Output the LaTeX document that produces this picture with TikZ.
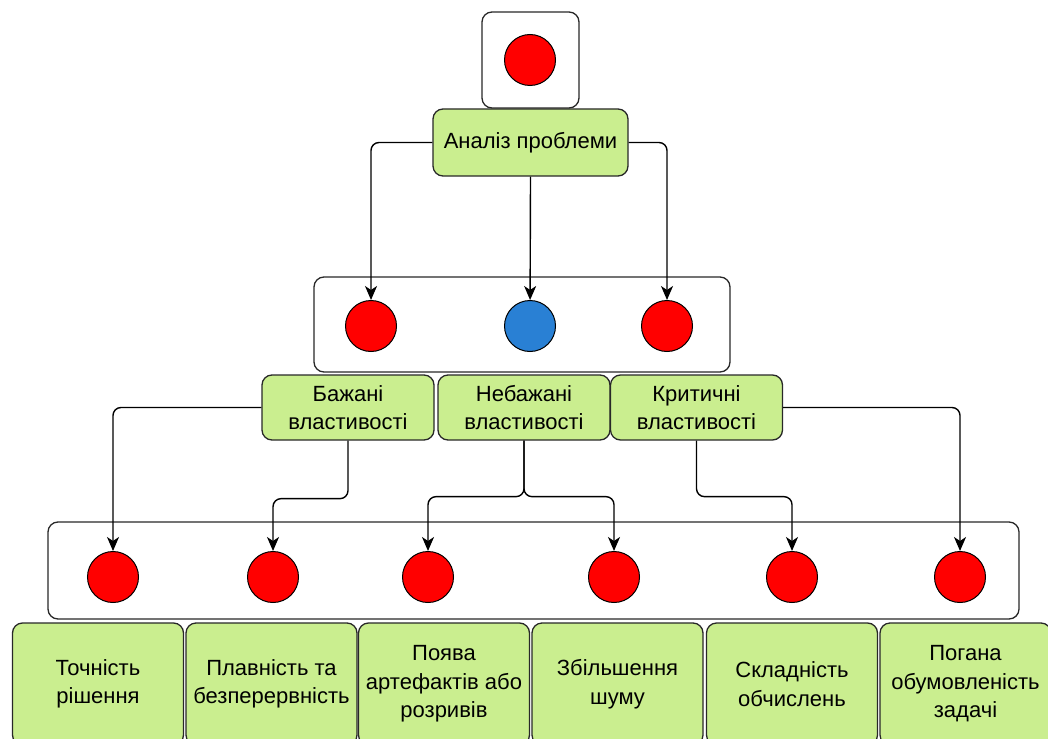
\documentclass[tikz,border=0pt]{standalone}
\usepackage{fontspec}
\setmainfont{Liberation Sans}
\usetikzlibrary{arrows.meta}

\definecolor{leaf}{RGB}{202,238,143}
\definecolor{edgegray}{RGB}{40,40,40}
\definecolor{dotblue}{RGB}{41,128,212}

\begin{document}
\begin{tikzpicture}[x=1pt, y=-1pt, semithick,
  frame/.style={draw=edgegray, rounded corners=10pt, line width=1.3pt},
  label/.style={frame, fill=leaf, align=center, inner sep=1pt,
    font=\fontsize{22}{28.5}\selectfont},
  dot/.style={circle, draw=black, line width=1pt, fill=red,
    minimum size=51pt, inner sep=0pt},
  conn/.style={draw=black, line width=1.4pt, rounded corners=8pt,
    -{Stealth[length=14pt,width=12pt,inset=4pt]}}]

  \useasboundingbox (0,0) rectangle (1048,738);

  % containers
  \node [frame, minimum width=97pt, minimum height=96pt] (topbox) at (530.5,60) {};
  \node [frame, minimum width=416pt, minimum height=95pt] (midbox) at (522,324.5) {};
  \node [frame, minimum width=971pt, minimum height=97pt] (lowbox) at (533.5,570.5) {};

  % dots
  \node [dot] (topdot) at (530,60) {};
  \node [dot] (mleft)  at (371,326) {};
  \node [dot, fill=dotblue] (mmid) at (530,326) {};
  \node [dot] (mright) at (667,326) {};

  \node [dot] (d1) at (113,577) {};
  \node [dot] (d2) at (273,577) {};
  \node [dot] (d3) at (428,577) {};
  \node [dot] (d4) at (614,577) {};
  \node [dot] (d5) at (792,577) {};
  \node [dot] (d6) at (960,577) {};

  % labels
  \node [label, minimum width=195pt, minimum height=67pt] (analysis) at (530.5,142.5) {Аналіз проблеми};

  \node [label, minimum width=172pt, minimum height=65pt] (wanted)   at (348,407.5) {Бажані\\властивості};
  \node [label, minimum width=172pt, minimum height=65pt] (unwanted) at (524,407.5) {Небажані\\властивості};
  \node [label, minimum width=172pt, minimum height=65pt] (critical) at (696.5,407.5) {Критичні\\властивості};

  \node [label, minimum width=171pt, minimum height=122pt] (l1) at (98,684) {Точність\\рішення};
  \node [label, minimum width=171pt, minimum height=122pt] (l2) at (271.5,684) {Плавність та\\безперервність};
  \node [label, minimum width=171pt, minimum height=122pt] (l3) at (444,684) {Поява\\артефактів або\\розривів};
  \node [label, minimum width=171pt, minimum height=122pt] (l4) at (617.5,684) {Збільшення\\шуму};
  \node [label, minimum width=171pt, minimum height=122pt] (l5) at (792,684) {Складність\\обчислень};
  \node [label, minimum width=171pt, minimum height=122pt] (l6) at (965.5,684) {Погана\\обумовленість\\задачі};

  % connectors
  \draw [conn] (analysis.west) -| (mleft);
  \draw [conn] (analysis.south) -- (mmid);
  \draw [conn] (analysis.east) -| (mright);

  \draw [conn] (wanted.west) -| (d1);
  \draw [conn] (wanted.south) -- ++(0,58) -| (d2);
  \draw [conn] (unwanted.south) -- ++(0,56) -| (d3);
  \draw [conn] (unwanted.south) -- ++(0,56) -| (d4);
  \draw [conn] (critical.south) -- ++(0,56) -| (d5);
  \draw [conn] (critical.east) -| (d6);

\end{tikzpicture}
\end{document}
